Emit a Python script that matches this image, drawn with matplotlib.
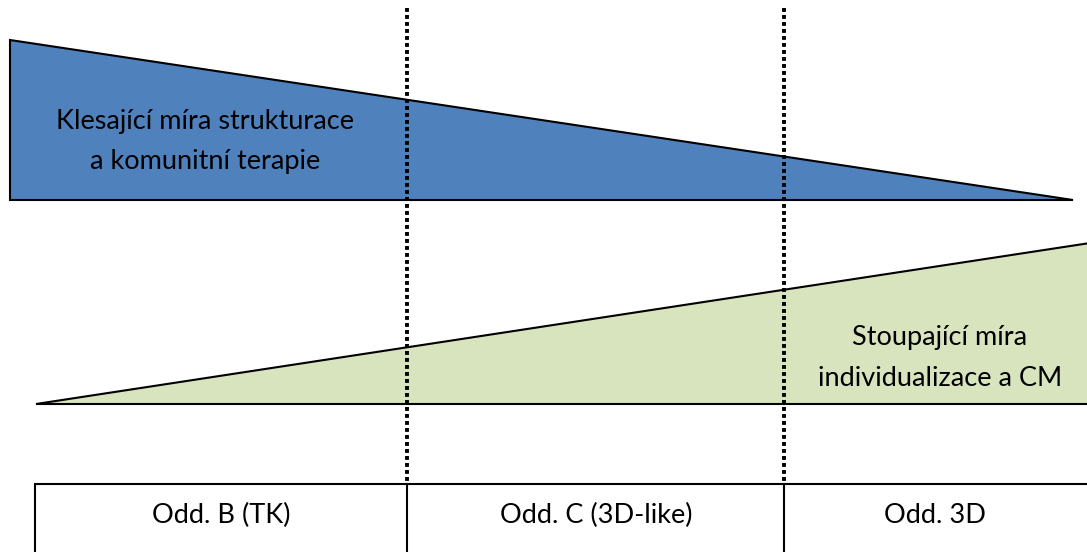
import matplotlib
matplotlib.use("Agg")
from matplotlib import pyplot as plt
from matplotlib.patches import Polygon, Rectangle

plt.rcParams['font.family'] = ['Lato', 'DejaVu Sans']

# diagram coordinates (pixel-like units, y grows downward)
blue_x = [10, 10, 1073]
blue_y = [40, 200, 200]
green_x = [36, 1090, 1090]
green_y = [404, 243, 404]
divider_x = [407, 784]
box_left = 35
box_top = 484
box_labels = ["Odd. B (TK)", "Odd. C (3D-like)", "Odd. 3D"]
box_label_x = [221, 596, 935]
blue_text = "Klesající míra strukturace\na komunitní terapie"
green_text = "Stoupající míra\nindividualizace a CM"

fig = plt.figure(figsize=(10.87, 5.52), dpi=100)
ax = fig.add_axes([0, 0, 1, 1])
ax.set_xlim(0, 1087)
ax.set_ylim(552, 0)
ax.axis('off')

ax.add_patch(Polygon(list(zip(blue_x, blue_y)), closed=True,
                     facecolor='#4F81BD', edgecolor='black', lw=1.5, zorder=1))
ax.add_patch(Polygon(list(zip(green_x, green_y)), closed=True,
                     facecolor='#D7E4BD', edgecolor='black', lw=1.5, zorder=1))

ax.add_patch(Rectangle((box_left, box_top), 1100 - box_left, 100,
                       facecolor='white', edgecolor='black', lw=1.5, zorder=2))

for x in divider_x:
    ax.plot([x, x], [8, box_top], color='black', lw=2.8,
            dashes=(1.0, 0.8), zorder=3)
    ax.plot([x, x], [box_top, 560], color='black', lw=1.5, zorder=3)

ax.text(205, 142, blue_text, ha='center', va='center', fontsize=19.5,
        linespacing=1.75, color='black', zorder=4)
ax.text(940, 358, green_text, ha='center', va='center', fontsize=19.5,
        linespacing=1.75, color='black', zorder=4)

for lab, x in zip(box_labels, box_label_x):
    ax.text(x, 523, lab, ha='center', va='baseline', fontsize=19.5,
            color='black', zorder=4)

fig.savefig("out.png", dpi=100)
